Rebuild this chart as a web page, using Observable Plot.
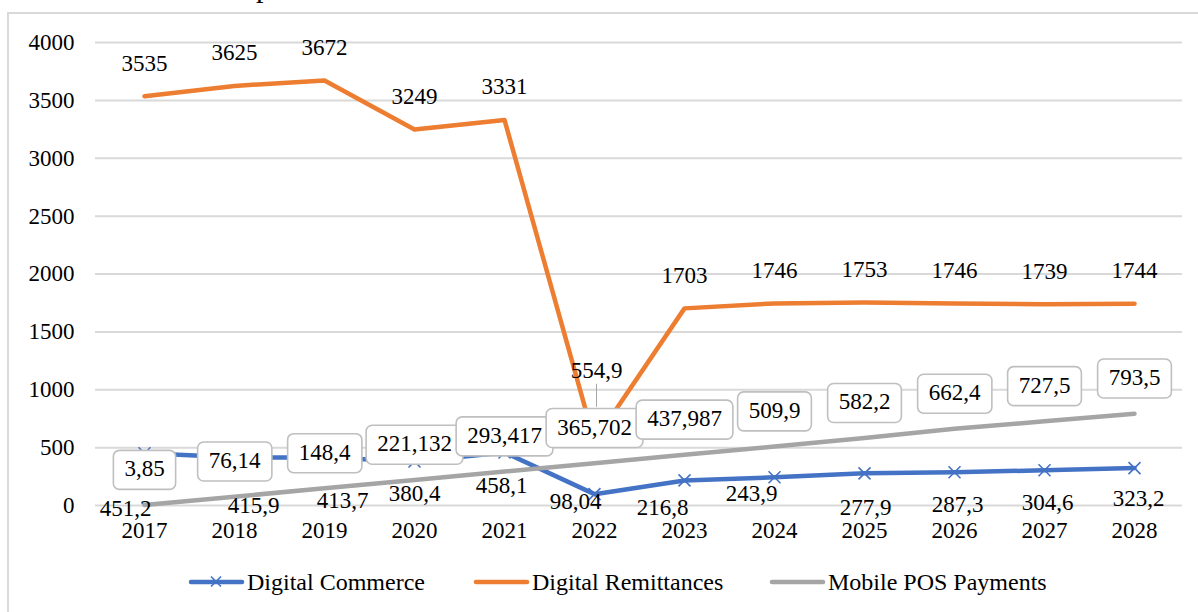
<!DOCTYPE html>
<html><head><meta charset="utf-8">
<script src="https://cdn.jsdelivr.net/npm/d3@7"></script>
<script src="https://cdn.jsdelivr.net/npm/@observablehq/plot@0.6"></script>
<style>
body{margin:0;width:1198px;height:612px;overflow:hidden;background:#fff;font-family:"Liberation Serif","DejaVu Serif",serif;position:relative}
#frame{position:absolute;left:7px;top:12px;width:1200px;height:700px;border-left:2px solid #d9d9d9;border-top:2px solid #d9d9d9;box-sizing:border-box}
#title{position:absolute;left:256px;top:-28px;font-size:30px;line-height:30px;color:#000}
#chart{position:absolute;left:0;top:0}
#legend{position:absolute;top:567px;left:0;width:1198px;height:30px;font-size:24px;color:#000}
.item{position:absolute;top:0;display:flex;align-items:center;height:30px;white-space:nowrap}
.item svg{margin-right:2px}
#diag{position:absolute;left:1000px;top:0;font-size:10px;font-family:monospace}
</style></head><body>
<div id="frame"></div>
<div id="title">p</div>
<div id="chart"></div>
<div id="legend"></div>
<script>
// ---- data ----
const years = ["2017","2018","2019","2020","2021","2022","2023","2024","2025","2026","2027","2028"];
const digitalCommerce = [451.2, 415.9, 413.7, 380.4, 458.1, 98.04, 216.8, 243.9, 277.9, 287.3, 304.6, 323.2];
const digitalRemittances = [3535, 3625, 3672, 3249, 3331, 554.9, 1703, 1746, 1753, 1746, 1739, 1744];
const mobilePOS = [3.85, 76.14, 148.4, 221.132, 293.417, 365.702, 437.987, 509.9, 582.2, 662.4, 727.5, 793.5];
const yTicks = [0, 500, 1000, 1500, 2000, 2500, 3000, 3500, 4000];
const seriesNames = ["Digital Commerce", "Digital Remittances", "Mobile POS Payments"];
const colors = ["#4472C4", "#ED7D31", "#A5A5A5"];

// label nudges (layout, in pixels)
const commerceLabelDx = [-19, 19, 18, 0, -3, -19, -22, -23, 1, 3, 3, 4];
const commerceLabelDy = [55, 48, 43, 32, 33, 7, 27, 16, 34, 32, 32, 31];
const remitLabelDx = [0, 0, 0, 0, 0, 2, 0, 0, 0, 0, 0, 0];
const remitLabelDy = [-33, -33, -33, -33, -33, -71, -33, -33, -33, -33, -33, -33];

const fmt = v => String(v).replace(".", ",");
const rows = years.map((year, i) => ({year, commerce: digitalCommerce[i], remit: digitalRemittances[i], pos: mobilePOS[i]}));

const font = '"Liberation Serif", "DejaVu Serif", serif';

const commerceLabelMarks = rows.map((r, i) => Plot.text([r], {
  x: "year", y: "commerce", text: d => fmt(d.commerce),
  dx: commerceLabelDx[i], dy: commerceLabelDy[i], fontSize: 23, fill: "#000"
}));
const remitLabelMarks = rows.map((r, i) => Plot.text([r], {
  x: "year", y: "remit", text: d => fmt(d.remit),
  dx: remitLabelDx[i], dy: remitLabelDy[i], fontSize: 23, fill: "#000"
}));

const plot = Plot.plot({
  width: 1198, height: 560,
  marginLeft: 95, marginRight: 16, marginTop: 42, marginBottom: 55,
  style: {fontFamily: font, fontSize: "23px", color: "#000", background: "transparent"},
  x: {type: "point", domain: years, padding: 0.5, label: null},
  y: {domain: [0, 4000], label: null},
  marks: [
    Plot.ruleY(yTicks, {stroke: "#d9d9d9", strokeWidth: 2}),
    Plot.axisY({ticks: yTicks, tickFormat: d => String(d), tickSize: 0, tickPadding: 21, label: null, fontSize: 23}),
    Plot.axisX({tickSize: 0, tickPadding: 16, label: null, fontSize: 23}),
    Plot.line(rows, {x: "year", y: "commerce", stroke: colors[0], strokeWidth: 4.5}),
    Plot.dot(rows, {x: "year", y: "commerce", symbol: "times", r: 5.5, stroke: colors[0], strokeWidth: 1.6}),
    Plot.line(rows, {x: "year", y: "remit", stroke: colors[1], strokeWidth: 4.5}),
    Plot.line(rows, {x: "year", y: "pos", stroke: colors[2], strokeWidth: 4.5}),
    ...commerceLabelMarks,
    ...remitLabelMarks,
    Plot.ruleX([rows[5]], {x: "year", y1: "remit", y2: "remit", dx: 2, insetTop: -57, insetBottom: 34, stroke: "#a6a6a6", strokeWidth: 1}),
    Plot.text(rows, {x: "year", y: "pos", text: d => fmt(d.pos), dy: -36, fontSize: 23, fill: "#000", ariaDescription: "boxlabel"})
  ]
});
document.getElementById("chart").appendChild(plot);

// white rounded boxes behind the Mobile POS labels
const ns = "http://www.w3.org/2000/svg";
plot.querySelectorAll('g[aria-description="boxlabel"] text').forEach(t => {
  const bb = t.getBBox();
  const padX = 11, h = 39;
  const cy = bb.y + bb.height / 2;
  const rect = document.createElementNS(ns, "rect");
  rect.setAttribute("x", bb.x - padX);
  rect.setAttribute("y", cy - h / 2 + 1);
  rect.setAttribute("width", bb.width + 2 * padX);
  rect.setAttribute("height", h);
  rect.setAttribute("rx", 6);
  rect.setAttribute("fill", "#fff");
  rect.setAttribute("stroke", "#bfbfbf");
  rect.setAttribute("stroke-width", 1.6);
  const tr = t.getAttribute("transform");
  if (tr) rect.setAttribute("transform", tr);
  t.parentNode.insertBefore(rect, t);
});

// legend
const legend = document.getElementById("legend");
const legendLeft = [188, 473, 769];
seriesNames.forEach((name, i) => {
  const item = document.createElement("div");
  item.className = "item";
  item.style.left = legendLeft[i] + "px";
  const marker = i === 0
    ? `<path d="M23,-5.5L33,4.5M33,-5.5L23,4.5" transform="translate(0,15)" stroke="${colors[0]}" stroke-width="1.6"/>`
    : "";
  item.innerHTML = `<svg width="57" height="30"><line x1="3" y1="15" x2="54" y2="15" stroke="${colors[i]}" stroke-width="4.5" stroke-linecap="round"/>${marker}</svg><span>${name}</span>`;
  legend.appendChild(item);
});
</script>
</body></html>
